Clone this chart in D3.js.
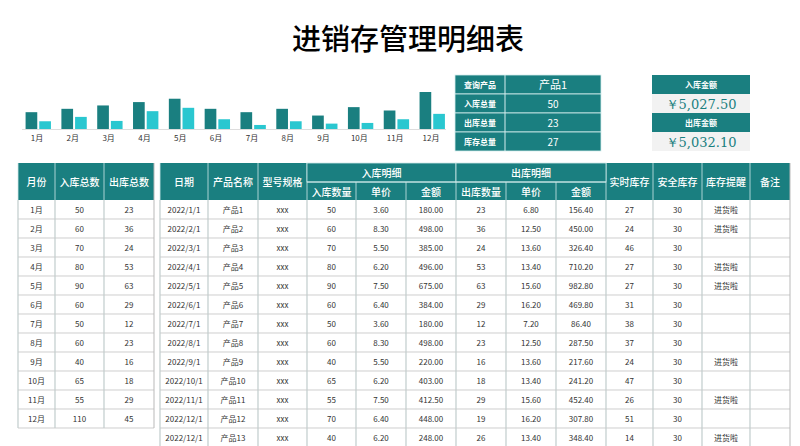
<!DOCTYPE html><html><head><meta charset="utf-8"><script src="https://cdn.jsdelivr.net/npm/d3@7/dist/d3.min.js"></script>
<style>body{margin:0;background:#fff}</style></head><body><svg id="s" width="800" height="446"></svg><script>
const months=["1月","2月","3月","4月","5月","6月","7月","8月","9月","10月","11月","12月"];
const inTotal=[50,60,70,80,90,60,50,60,40,65,55,110];
const outTotal=[23,36,24,53,63,29,12,23,16,18,29,45];
const dates=["2022/1/1","2022/2/1","2022/3/1","2022/4/1","2022/5/1","2022/6/1","2022/7/1","2022/8/1","2022/9/1","2022/10/1","2022/11/1","2022/12/1","2022/12/1"];
const products=["产品1","产品2","产品3","产品4","产品5","产品6","产品7","产品8","产品9","产品10","产品11","产品12","产品13"];
const inQty=[50,60,70,80,90,60,50,60,40,65,55,70,40];
const inPrice=["3.60","8.30","5.50","6.20","7.50","6.40","3.60","8.30","5.50","6.20","7.50","6.40","6.20"];
const inAmt=["180.00","498.00","385.00","496.00","675.00","384.00","180.00","498.00","220.00","403.00","412.50","448.00","248.00"];
const outQty=[23,36,24,53,63,29,12,23,16,18,29,19,26];
const outPrice=["6.80","12.50","13.60","13.40","15.60","16.20","7.20","12.50","13.60","13.40","15.60","16.20","13.40"];
const outAmt=["156.40","450.00","326.40","710.20","982.80","469.80","86.40","287.50","217.60","241.20","452.40","307.80","348.40"];
const stock=[27,24,46,27,27,31,38,37,24,47,26,51,14];
const safe=[30,30,30,30,30,30,30,30,30,30,30,30,30];
const remind=["进货啦","进货啦","","进货啦","进货啦","","","","进货啦","","进货啦","","进货啦"];
const T="#1a7f80",L="#2ac7d0",G="#b9b9b9",F="'Noto Sans CJK SC',sans-serif";
const svg=d3.select("#s");
svg.append("text").attr("x",408).attr("y",50).attr("text-anchor","middle").attr("font-family",F).attr("font-size",29).attr("font-weight",500).text("进销存管理明细表");
// bar chart
const x=d3.scaleBand().domain(months).range([20,448]).paddingInner(0.25).paddingOuter(0.1);
const y=d3.scaleLinear().domain([0,110]).range([129,92]);
const g=svg.append("g");
g.append("line").attr("x1",22).attr("x2",446).attr("y1",129.5).attr("y2",129.5).attr("stroke","#ddd");
const bw=x.bandwidth()/2.3;
months.forEach((m,i)=>{
 g.append("rect").attr("x",x(m)+2).attr("y",y(inTotal[i])).attr("width",bw).attr("height",129-y(inTotal[i])).attr("fill",T);
 g.append("rect").attr("x",x(m)+2+bw+2).attr("y",y(outTotal[i])).attr("width",bw).attr("height",129-y(outTotal[i])).attr("fill",L);
});
const ax=g.append("g").attr("transform","translate(0,132)").call(d3.axisBottom(x).tickSize(0));
ax.select(".domain").remove();ax.selectAll("text").attr("font-family",F).attr("font-size",8).attr("fill","#333");
// info table
const info=[["查询产品","产品1"],["入库总量","50"],["出库总量","23"],["库存总量","27"]];
info.forEach((r,i)=>{const yy=75+i*19;
 svg.append("rect").attr("x",455).attr("y",yy).attr("width",146).attr("height",19).attr("fill",T).attr("stroke","#d6eeee").attr("stroke-width",0.8);
 svg.append("line").attr("x1",505).attr("x2",505).attr("y1",yy).attr("y2",yy+19).attr("stroke","#d6eeee");
 svg.append("text").attr("x",480).attr("y",yy+13).attr("text-anchor","middle").attr("fill","#fff").attr("font-family",F).attr("font-size",8).attr("font-weight",700).text(r[0]);
 svg.append("text").attr("x",553).attr("y",yy+13.5).attr("text-anchor","middle").attr("fill","#fff").attr("font-family",F).attr("font-size",i==0?11:10).text(r[1]);
});
[["入库金额","￥5,027.50"],["出库金额","￥5,032.10"]].forEach((c,i)=>{const yy=75+i*38;
 svg.append("rect").attr("x",652).attr("y",yy).attr("width",98).attr("height",19).attr("fill",T);
 svg.append("text").attr("x",701).attr("y",yy+13).attr("text-anchor","middle").attr("fill","#fff").attr("font-family",F).attr("font-size",8).attr("font-weight",700).text(c[0]);
 svg.append("rect").attr("x",652).attr("y",yy+19).attr("width",98).attr("height",19).attr("fill","#f2f2f2");
 svg.append("text").attr("x",701).attr("y",yy+34).attr("text-anchor","middle").attr("fill",T).attr("font-family","'DejaVu Serif',serif").attr("font-size",13).text(c[1]);
});
// tables
const H0=163,H1=200,RH=19;
function table(cols,rows,hdr2){
 const gg=svg.append("g");
 const x0=cols[0][0],x1=cols[cols.length-1][1];
 gg.append("rect").attr("x",x0).attr("y",H0).attr("width",x1-x0).attr("height",H1-H0).attr("fill",T);
 rows.forEach((r,ri)=>{const yy=H1+ri*RH;
  gg.append("line").attr("x1",x0).attr("x2",x1).attr("y1",yy+RH).attr("y2",yy+RH).attr("stroke",G).attr("stroke-width",0.7);
  r.forEach((v,ci)=>gg.append("text").attr("x",(cols[ci][0]+cols[ci][1])/2).attr("y",yy+13).attr("text-anchor","middle").attr("font-family",F).attr("font-size",8).attr("fill","#333").text(v));
 });
 const yEnd=H1+rows.length*RH;
 cols.forEach((c,ci)=>{
  const sub=hdr2&&hdr2.sub.includes(ci);
  gg.append("line").attr("x1",c[0]).attr("x2",c[0]).attr("y1",H0).attr("y2",yEnd).attr("stroke","#cfe9e9").attr("stroke-width",0.8);
  gg.append("line").attr("x1",c[0]).attr("x2",c[0]).attr("y1",H1).attr("y2",yEnd).attr("stroke",G).attr("stroke-width",0.7);
  gg.append("text").attr("x",(c[0]+c[1])/2).attr("y",sub?196:186).attr("text-anchor","middle").attr("fill","#fff").attr("font-family",F).attr("font-size",10).attr("font-weight",500).text(c[2]);
 });
 gg.append("line").attr("x1",x1).attr("x2",x1).attr("y1",H0).attr("y2",yEnd).attr("stroke",G);
 if(hdr2) hdr2.groups.forEach(gr=>{
  gg.append("rect").attr("x",gr[0]).attr("y",H0).attr("width",gr[1]-gr[0]).attr("height",19).attr("fill",T).attr("stroke","#cfe9e9").attr("stroke-width",0.8);
  gg.append("line").attr("x1",gr[0]).attr("x2",gr[1]).attr("y1",182).attr("y2",182).attr("stroke","#cfe9e9");
  gg.append("text").attr("x",(gr[0]+gr[1])/2).attr("y",177).attr("text-anchor","middle").attr("fill","#fff").attr("font-family",F).attr("font-size",10).attr("font-weight",500).text(gr[2]);
 });
}
table([[18,55,"月份"],[55,104,"入库总数"],[104,154,"出库总数"]],months.map((m,i)=>[m,inTotal[i],outTotal[i]]));
const c2=[[160,208,"日期"],[208,258,"产品名称"],[258,307,"型号规格"],[307,356,"入库数量"],[356,406,"单价"],[406,456,"金额"],[456,506,"出库数量"],[506,556,"单价"],[556,606,"金额"],[606,653,"实时库存"],[653,702,"安全库存"],[702,750,"库存提醒"],[750,790,"备注"]];
table(c2,dates.map((d,i)=>[d,products[i],"xxx",inQty[i],inPrice[i],inAmt[i],outQty[i],outPrice[i],outAmt[i],stock[i],safe[i],remind[i],""]),
 {sub:[3,4,5,6,7,8],groups:[[356-49,456,"入库明细"],[456,606,"出库明细"]]});
</script></body></html>
